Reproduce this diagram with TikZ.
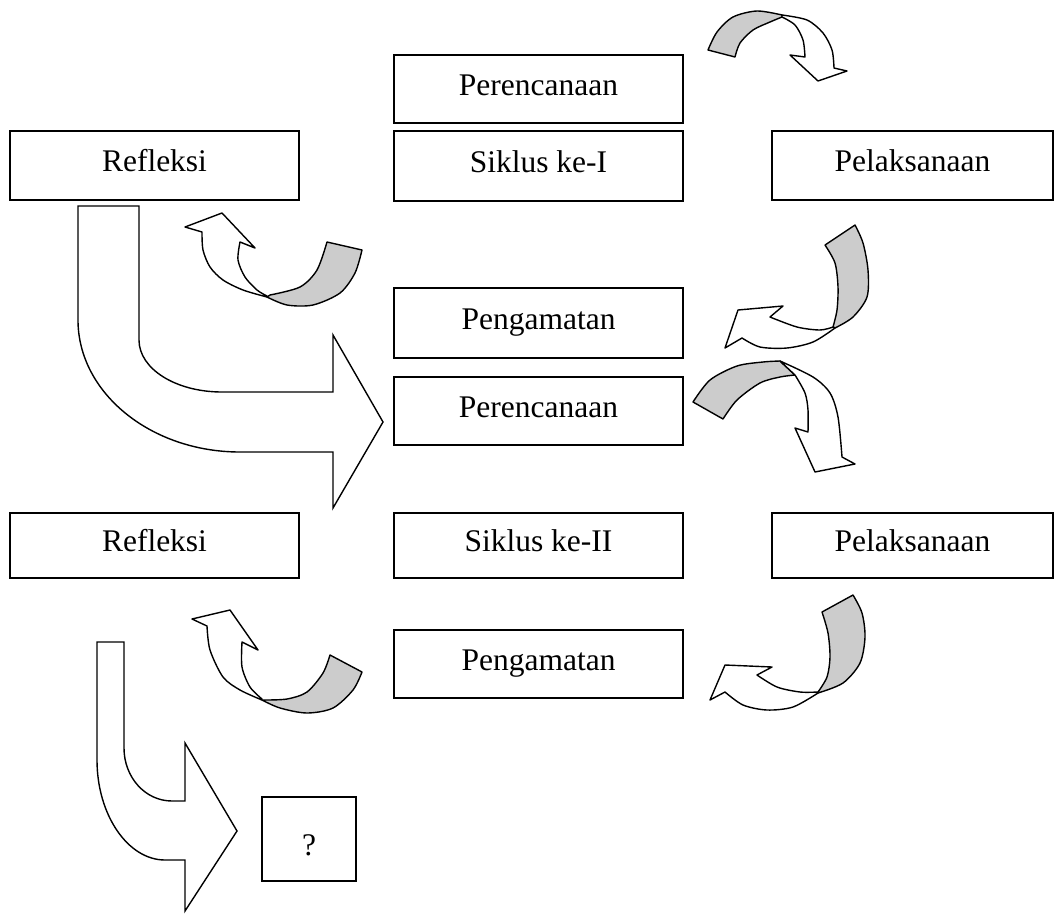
\documentclass[tikz,border=0pt]{standalone}
\usepackage{fontspec}
\setmainfont{Liberation Serif}
\definecolor{ribbon}{RGB}{204,204,204}
\begin{document}
\begin{tikzpicture}[x=1pt,y=-1pt,
  box/.style={draw, line width=1.8pt, rectangle, inner sep=0pt,
    font=\fontsize{31.5}{36}\selectfont, text height=20pt, text depth=8pt},
  rw/.style={draw, fill=white, line width=1.4pt, line join=round},
  rg/.style={draw, fill=ribbon, line width=1.4pt, line join=round},
  big/.style={draw, fill=white, line width=1.4pt}]
\useasboundingbox (0,0) rectangle (1056,913);

% boxes
\node[box, minimum width=289pt, minimum height=68pt] (per1) at (538.5,89) {Perencanaan};
\node[box, minimum width=289pt, minimum height=70pt] (sik1) at (538.5,166) {Siklus ke-I};
\node[box, minimum width=289pt, minimum height=69pt] (ref1) at (154.5,165.5) {Refleksi};
\node[box, minimum width=281pt, minimum height=69pt] (pel1) at (912.5,165.5) {Pelaksanaan};
\node[box, minimum width=289pt, minimum height=70pt] (pen1) at (538.5,323) {Pengamatan};
\node[box, minimum width=289pt, minimum height=68pt] (per2) at (538.5,411) {Perencanaan};
\node[box, minimum width=289pt, minimum height=65pt] (ref2) at (154.5,545.5) {Refleksi};
\node[box, minimum width=289pt, minimum height=65pt] (sik2) at (538.5,545.5) {Siklus ke-II};
\node[box, minimum width=281pt, minimum height=65pt] (pel2) at (912.5,545.5) {Pelaksanaan};
\node[box, minimum width=289pt, minimum height=68pt] (pen2) at (538.5,664) {Pengamatan};
\node[box, minimum width=94pt, minimum height=84pt] (q) at (309,839) {\raisebox{-10pt}{?}};

% big arrows
\draw[big] (78,206) -- (139,206) -- (139,340) .. controls (139,369) and (176,392) .. (222,392)
  -- (333,392) -- (333,335) -- (383,422) -- (333,508) -- (333,452) -- (240,452)
  .. controls (151,452) and (78,393) .. (78,320) -- cycle;
\draw[big] (97,642) -- (124,642) -- (124,748) .. controls (124,777) and (145,801) .. (172,801)
  -- (185,801) -- (185,743) -- (237,831) -- (185,911) -- (185,860) -- (165,860)
  .. controls (128,860) and (97,815) .. (97,760) -- cycle;

% ribbon arrow A (top)
\path[rg] plot[smooth] coordinates {(708,50) (717,32) (733,17) (757,11) (782,15)}
  -- plot[smooth] coordinates {(782,17) (770,22) (753,30) (740,43) (735,57)} -- cycle;
\path[rw] plot[smooth] coordinates {(782,15) (807,20) (823,33) (832,50) (834,68)}
  -- (847,71) -- (818,81) -- (790,55)
  -- plot[smooth] coordinates {(805,57) (803,40) (795,25) (782,17)} -- cycle;

% ribbon arrow D (right of Perencanaan 2)
\path[rg] plot[smooth] coordinates {(693,402) (710,380) (737,366) (763,362) (780,361)}
  -- plot[smooth] coordinates {(795,375) (780,377) (760,383) (737,400) (723,419)} -- cycle;
\path[rw] plot[smooth] coordinates {(780,361) (813,377) (830,393) (838,417) (842,457)}
  -- (855,464) -- (815,472) -- (795,428)
  -- plot[smooth] coordinates {(808,432) (808,410) (805,393) (795,375)} -- cycle;

% ribbon arrow B1
\path[rw] plot[smooth] coordinates {(267,297) (243,290) (223,280) (210,267) (203,250) (202,232)}
  -- (185,227) -- (222,213) -- (255,248)
  -- plot[smooth] coordinates {(240,242) (238,260) (245,277) (257,290) (267,296)} -- cycle;
\path[rg] plot[smooth] coordinates {(267,297) (287,305) (313,305) (340,293) (355,273) (362,250)}
  -- plot[smooth] coordinates {(327,242) (317,270) (300,287) (270,295)} -- cycle;

% ribbon arrow B2
\path[rw] plot[smooth] coordinates {(262,700) (240,690) (223,677) (210,650) (207,626)}
  -- (192,619) -- (230,610) -- (258,650)
  -- plot[smooth] coordinates {(242,642) (242,667) (250,687) (262,699)} -- cycle;
\path[rg] plot[smooth] coordinates {(262,700) (280,708) (307,713) (333,708) (353,690) (362,672)}
  -- plot[smooth] coordinates {(330,655) (323,673) (307,692) (287,699) (263,700)} -- cycle;

% ribbon arrow C1
\path[rg] plot[smooth] coordinates {(855,225) (863,243) (868,270) (867,297) (853,317) (835,328)}
  -- plot[smooth] coordinates {(833,327) (837,310) (838,287) (835,263) (825,245)} -- cycle;
\path[rw] plot[smooth] coordinates {(835,328) (813,342) (787,348) (760,347) (742,338)}
  -- (725,348) -- (738,310) -- (783,306)
  -- plot[smooth] coordinates {(770,317) (797,327) (820,330) (833,327)} -- cycle;

% ribbon arrow C2
\path[rg] plot[smooth] coordinates {(853,595) (862,613) (865,637) (860,663) (843,683) (818,693)}
  -- plot[smooth] coordinates {(818,692) (827,677) (830,657) (828,633) (822,612)} -- cycle;
\path[rw] plot[smooth] coordinates {(818,693) (793,707) (767,710) (743,705) (725,692)}
  -- (710,700) -- (725,665) -- (772,667)
  -- plot[smooth] coordinates {(757,675) (777,687) (800,692) (818,692)} -- cycle;
\end{tikzpicture}
\end{document}
